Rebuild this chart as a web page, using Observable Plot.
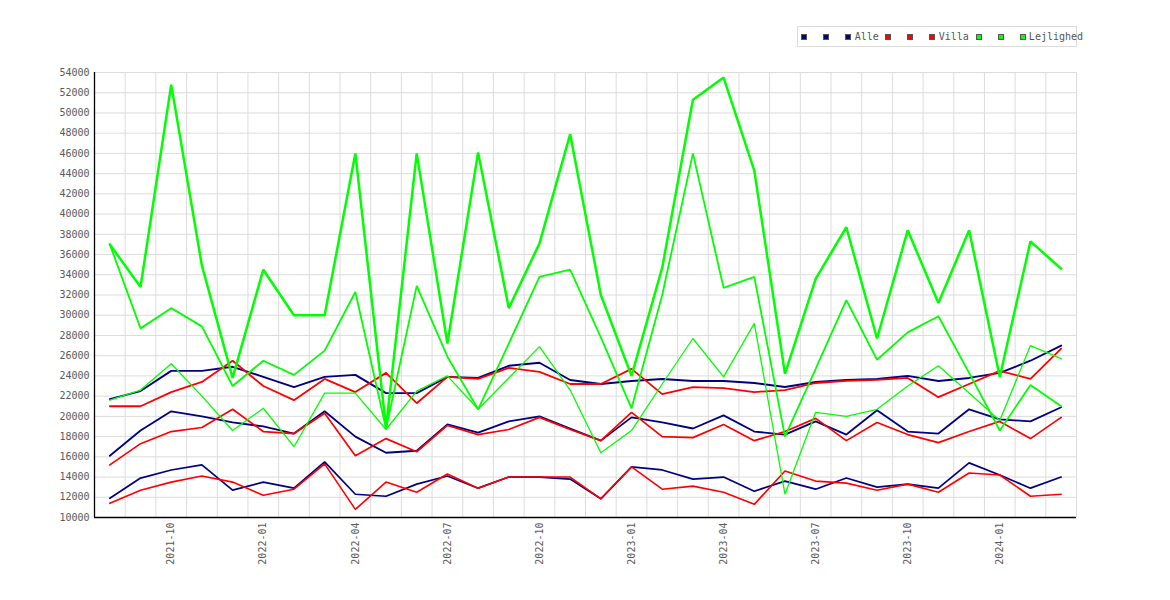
<!DOCTYPE html>
<html>
<head>
<meta charset="utf-8">
<script src="https://cdn.jsdelivr.net/npm/d3@7"></script>
<script src="https://cdn.jsdelivr.net/npm/@observablehq/plot@0.6"></script>
<style>
  body { margin: 0; background: #fff; }
  #wrap { position: relative; width: 1170px; height: 600px; }
  #legend {
    position: absolute; left: 797px; top: 26px; width: 280px; height: 21px;
    box-sizing: border-box; border: 1px solid #dcdcdc; background: #fff;
    display: flex; align-items: center; padding-left: 3.3px;
    font-family: "DejaVu Sans Mono", monospace; font-size: 10px; color: #555;
    white-space: pre; overflow: visible;
  }
  .item { display: flex; align-items: center; margin-right: 6.7px; }
  .sq { width: 6px; height: 6px; box-sizing: border-box; border: 1px solid #555; margin-right: 3.3px; }
</style>
</head>
<body>
<div id="wrap"><div id="chart"></div><div id="legend"></div></div>
<script>
const months = ["2021-08","2021-09","2021-10","2021-11","2021-12",
  "2022-01","2022-02","2022-03","2022-04","2022-05","2022-06","2022-07","2022-08","2022-09","2022-10","2022-11","2022-12",
  "2023-01","2023-02","2023-03","2023-04","2023-05","2023-06","2023-07","2023-08","2023-09","2023-10","2023-11","2023-12",
  "2024-01","2024-02","2024-03"];
const tickLabels = ["2021-10","2022-01","2022-04","2022-07","2022-10","2023-01","2023-04","2023-07","2023-10","2024-01"];
const yTicks = [10000,12000,14000,16000,18000,20000,22000,24000,26000,28000,30000,32000,34000,36000,38000,40000,42000,44000,46000,48000,50000,52000,54000];

const alleHigh = [21700,22500,24500,24500,24900,23900,22900,23900,24100,22300,22300,23900,23800,25000,25300,23600,23200,23500,23700,23500,23500,23300,22900,23400,23600,23700,24000,23500,23800,24300,25500,27000];
const alleMid  = [16100,18600,20500,20000,19400,19000,18300,20500,18000,16400,16600,19200,18400,19500,20000,18800,17600,19900,19400,18800,20100,18500,18200,19500,18200,20600,18500,18300,20700,19700,19500,20900];
const alleLow  = [11900,13900,14700,15200,12700,13500,12900,15500,12300,12100,13300,14100,12900,14000,14000,13800,11850,15000,14700,13800,14000,12600,13600,12800,13900,13000,13300,12900,15400,14200,12900,14000];

const villaHigh = [21000,21000,22400,23400,25500,23000,21600,23700,22400,24300,21300,23900,23700,24800,24400,23200,23200,24700,22200,22900,22800,22400,22600,23300,23500,23600,23800,21900,23200,24500,23700,26700];
const villaMid  = [15200,17300,18500,18900,20700,18500,18300,20300,16100,17800,16500,19100,18200,18700,19900,18700,17600,20400,18000,17900,19200,17600,18500,19800,17600,19400,18200,17400,18500,19500,17800,19900];
const villaLow  = [11400,12700,13500,14100,13500,12200,12800,15300,10800,13500,12500,14300,12900,14000,14000,14000,11850,15000,12800,13100,12500,11300,14600,13600,13400,12700,13300,12500,14400,14200,12100,12300];

const lejlHigh = [37000,32800,52800,34900,23800,34500,30000,30000,46000,18900,46000,27200,46100,30700,37100,47900,32000,24000,34700,51300,53500,44300,24200,33600,38700,27700,38400,31200,38400,23900,37300,34600];
const lejlMid  = [37000,28700,30700,28900,23000,25500,24100,26500,32300,18800,32900,25900,20700,27200,33800,34500,27800,20800,32000,46000,32700,33800,18000,24700,31500,25600,28300,29900,24300,18600,23100,21000];
const lejlLow  = [21600,22600,25200,22000,18600,20800,17000,22300,22300,18700,22500,24000,20700,23800,26900,22600,16400,18600,23200,27700,23900,29200,12300,20400,20000,20700,23000,25000,22300,19600,27000,25700];

const legendLabels = [" ", " ", "Alle", " ", " ", "Villa", " ", " ", "Lejlighed"];
const colors = ["#000080","#000080","#000080","#ff0000","#ff0000","#ff0000","#00ff00","#00ff00","#00ff00"];
const widths = [1.7, 1.8, 1.9, 1.6, 1.7, 1.8, 1.3, 1.8, 2.5];
const seriesValues = [alleLow, alleMid, alleHigh, villaLow, villaMid, villaHigh, lejlLow, lejlMid, lejlHigh];

const series = seriesValues.map((vals, k) => ({
  data: vals.map((v, i) => ({i, v})),
  color: colors[k],
  width: widths[k]
}));

const boundaries = d3.range(-0.5, months.length, 1);
const tickIdx = tickLabels.map(l => months.indexOf(l));
const font = "DejaVu Sans Mono";

const chart = Plot.plot({
  width: 1170,
  height: 600,
  marginLeft: 94,
  marginRight: 94,
  marginTop: 72,
  marginBottom: 83,
  x: {type: "linear", domain: [-0.5, months.length - 0.5]},
  y: {domain: [10000, 54000]},
  style: {background: "#fff", fontFamily: font, fontSize: "10px"},
  marks: [
    Plot.ruleY(yTicks, {stroke: "#dcdcdc", strokeWidth: 1}),
    Plot.ruleX(boundaries, {stroke: "#dcdcdc", strokeWidth: 1}),
    ...series.map(s => Plot.line(s.data, {x: "i", y: "v", stroke: s.color, strokeWidth: s.width, strokeLinejoin: "miter"})),
    Plot.ruleX([-0.5], {stroke: "#000", strokeWidth: 1.3}),
    Plot.ruleY([10000], {stroke: "#000", strokeWidth: 1.3}),
    Plot.axisY(yTicks, {anchor: "left", tickSize: 0, tickPadding: 5, tickFormat: "d", label: null,
      fill: "#5a5a5a", fontSize: 10, fontFamily: font}),
    Plot.axisX(tickIdx, {anchor: "bottom", tickSize: 0, tickPadding: 5, tickRotate: -90,
      tickFormat: i => months[i], label: null, fill: "#5a5a5a", fontSize: 10, fontFamily: font})
  ]
});
document.getElementById("chart").appendChild(chart);

const legend = document.getElementById("legend");
legendLabels.forEach((lab, k) => {
  const item = document.createElement("div");
  item.className = "item";
  const sq = document.createElement("div");
  sq.className = "sq";
  sq.style.background = colors[k];
  const t = document.createElement("span");
  t.textContent = lab;
  item.appendChild(sq);
  item.appendChild(t);
  legend.appendChild(item);
});
</script>
</body>
</html>
